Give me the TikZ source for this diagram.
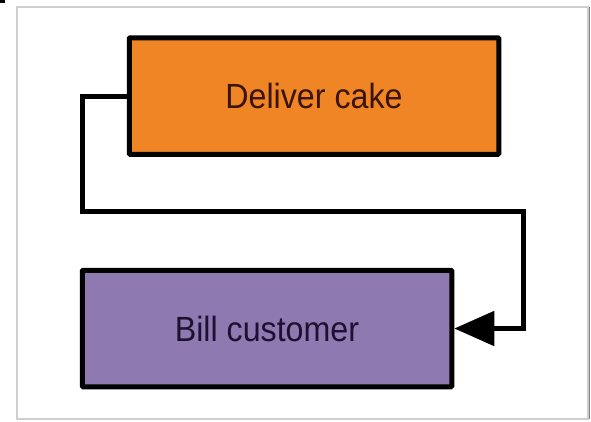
\documentclass[tikz,border=0pt]{standalone}
\usepackage{fontspec}
\setmainfont{Liberation Sans}
\usetikzlibrary{arrows.meta}
\definecolor{cakeorange}{HTML}{F08526}
\definecolor{billpurple}{HTML}{8F79B1}
\definecolor{cakebrown}{HTML}{3A1406}
\definecolor{billdark}{HTML}{1E1030}
\definecolor{framegray}{HTML}{CFCFCF}
\tikzset{
  taskbox/.style={draw=black, line width=5pt, rounded corners=1pt, inner sep=0pt,
    font=\fontsize{35}{38}\selectfont},
  flowline/.style={draw=black, line width=5pt, -{Triangle[length=40pt,width=34pt]}},
}
\begin{document}
\begin{tikzpicture}[x=1pt,y=-1pt]
\useasboundingbox (0,0) rectangle (591,421);
\fill[white] (0,0) rectangle (591,421);
\fill[black] (0,0) rectangle (5,3);
\draw[framegray, line width=2pt] (17,7) rectangle (588,419);
\draw[gray, line width=1pt] (589,7) -- (589,419);
\node[taskbox, fill=cakeorange, text=cakebrown, minimum width=369.5pt, minimum height=116.5pt]
  (deliver) at (314,96) {\scalebox{0.92}[1]{Deliver cake}};
\node[taskbox, fill=billpurple, text=billdark, minimum width=369.5pt, minimum height=116.5pt]
  (bill) at (267,328.5) {\scalebox{0.92}[1]{Bill customer}};
\coordinate (c1) at (82.5,96);
\coordinate (c2) at (82.5,211);
\coordinate (c3) at (523,211);
\coordinate (c4) at (523,328.5);
\draw[flowline] (deliver.west) -- (c1) -- (c2) -- (c3) -- (c4) -- (bill.east);
\end{tikzpicture}
\end{document}
